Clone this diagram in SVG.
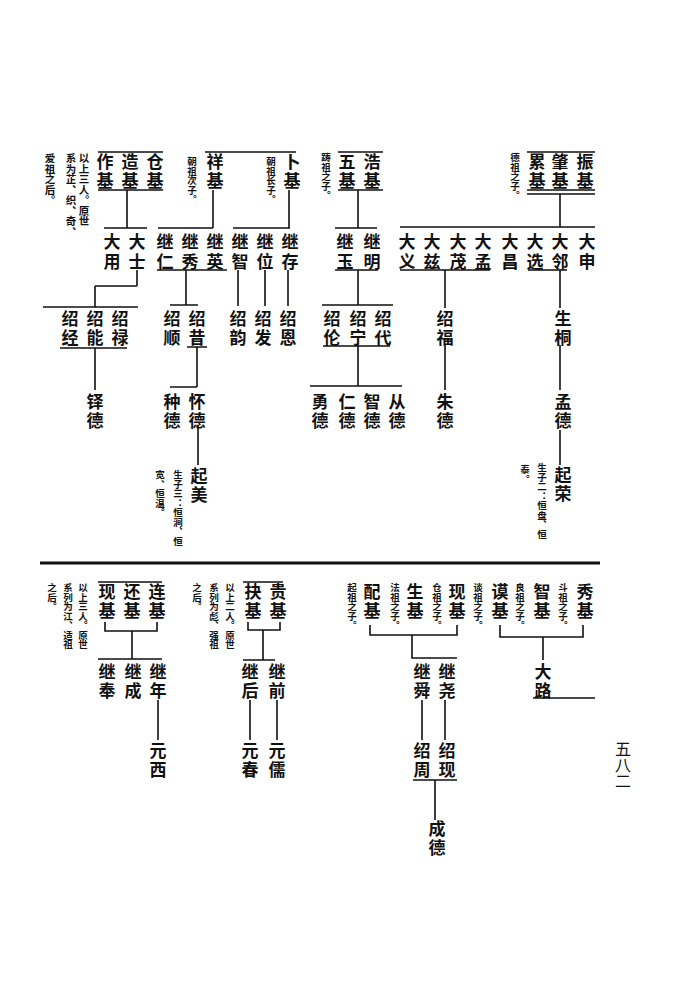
<svg xmlns="http://www.w3.org/2000/svg" width="674" height="1007" viewBox="0 0 674 1007">
<style>
.n{font-family:"Noto Sans CJK SC","Noto Sans CJK JP",sans-serif;font-size:17px;font-weight:700;fill:#111;text-anchor:middle}
.s{font-family:"Noto Sans CJK SC","Noto Sans CJK JP",sans-serif;font-size:9.5px;font-weight:700;fill:#111;writing-mode:vertical-rl}
.p{font-family:"Noto Sans CJK SC","Noto Sans CJK JP",sans-serif;font-size:16px;fill:#111;text-anchor:middle}
.l{stroke:#111;stroke-width:1.6;fill:none}
.sep{stroke:#111;stroke-width:3}
</style>
<rect width="674" height="1007" fill="#fff"/>
<g id="connectors" class="l">
<!-- group A -->
<path d="M98 152H163M98 190H163M127 190V228M104 228H147M137 270V286M95 286H137M95 286V307M43 307H138M60 348H127M95 348V390"/>
<!-- group B -->
<path d="M205 152H296M213 190V228M158 228H213M157 270H227M186 270V305M170 305H198M187 347H207M197 347V387M170 387H197M198 425V465"/>
<path d="M289 190V228M233 228H290M238 270V306M265 270V306M288 270V306"/>
<!-- group C -->
<path d="M338 152H383M338 190H383M358 190V228M335 228H377M335 270H378M358 270V305M322 305H393M323 346H390M358 346V386M310 386H402"/>
<!-- group D -->
<path d="M527 152H595M527 190H595M527 194H595M560 194V227M400 227H595M400 270H490M528 270H567M445 270V308M445 345V390M560 270V308M560 345V390M560 430V465"/>
<!-- separator -->
<path class="sep" d="M40 563H600"/>
<!-- group E -->
<path d="M98 582H162M105 622V631H157V622M132 631V659M98 659H162M158 700V740"/>
<!-- group F -->
<path d="M243 582H283M248 622V630H280V622M263 630V660M243 660H275M277 700V740M250 700V740"/>
<!-- group G -->
<path d="M500 625V637H583V625M543 637V660M533 698H595"/>
<!-- group H -->
<path d="M370 625V635H457V625M412 635V658H457M445 700V740M422 700V740M413 780H457M435 780V820"/>
</g>
<g id="n-cangji"><text class="n" x="155 155" y="167.5 187">仓基</text></g>
<g id="n-zaoji"><text class="n" x="130 130" y="167.5 187">造基</text></g>
<g id="n-zuoji"><text class="n" x="105 105" y="167.5 187">作基</text></g>
<g id="note-a"><text class="s" x="84" y="153" style="font-size:10.5px">以上三人。原世</text><text class="s" x="71" y="153" style="font-size:10.5px">系为芷、织、奇、</text><text class="s" x="50" y="153" style="font-size:10.5px">爱祖之后。</text></g>
<g id="n-xiangji"><text class="n" x="215 215" y="167.5 187">祥基</text><text class="s" x="192" y="157">朝祖次子。</text></g>
<g id="n-buji"><text class="n" x="292 292" y="167.5 187">卜基</text><text class="s" x="271" y="157">朝祖长子。</text></g>
<g id="n-haoji"><text class="n" x="372 372" y="167.5 187">浩基</text></g>
<g id="n-wuji"><text class="n" x="347 347" y="167.5 187">五基</text><text class="s" x="326" y="153">踌祖之子。</text></g>
<g id="n-zhenji"><text class="n" x="585 585" y="167.5 187">振基</text></g>
<g id="n-zhaoji"><text class="n" x="560 560" y="167.5 187">肇基</text></g>
<g id="n-leiji"><text class="n" x="537 537" y="167.5 187">累基</text><text class="s" x="515" y="153">德祖之子。</text></g>

<g id="n-dashi"><text class="n" x="137 137" y="248 267.5">大士</text></g>
<g id="n-dayong"><text class="n" x="112 112" y="248 267.5">大用</text></g>
<g id="n-jiying"><text class="n" x="215 215" y="248 267.5">继英</text></g>
<g id="n-jixiu"><text class="n" x="190 190" y="248 267.5">继秀</text></g>
<g id="n-jiren"><text class="n" x="165 165" y="248 267.5">继仁</text></g>
<g id="n-jicun"><text class="n" x="290 290" y="248 267.5">继存</text></g>
<g id="n-jiwei"><text class="n" x="265 265" y="248 267.5">继位</text></g>
<g id="n-jizhi"><text class="n" x="240 240" y="248 267.5">继智</text></g>
<g id="n-jiming"><text class="n" x="372 372" y="248 267.5">继明</text></g>
<g id="n-jiyu"><text class="n" x="345 345" y="248 267.5">继玉</text></g>
<g id="n-dashen"><text class="n" x="587 587" y="248 267.5">大申</text></g>
<g id="n-dalin"><text class="n" x="560 560" y="248 267.5">大邻</text></g>
<g id="n-daxuan"><text class="n" x="535 535" y="248 267.5">大选</text></g>
<g id="n-dachang"><text class="n" x="510 510" y="248 267.5">大昌</text></g>
<g id="n-dameng"><text class="n" x="483 483" y="248 267.5">大孟</text></g>
<g id="n-damao"><text class="n" x="458 458" y="248 267.5">大茂</text></g>
<g id="n-dazi"><text class="n" x="432 432" y="248 267.5">大兹</text></g>
<g id="n-dayi"><text class="n" x="407 407" y="248 267.5">大义</text></g>

<g id="n-shaolu"><text class="n" x="120 120" y="324.5 344">绍禄</text></g>
<g id="n-shaoneng"><text class="n" x="95 95" y="324.5 344">绍能</text></g>
<g id="n-shaojing"><text class="n" x="70 70" y="324.5 344">绍经</text></g>
<g id="n-shaoxi"><text class="n" x="197 197" y="324.5 344">绍昔</text></g>
<g id="n-shaoshun"><text class="n" x="172 172" y="324.5 344">绍顺</text></g>
<g id="n-shaoen"><text class="n" x="288 288" y="324.5 344">绍恩</text></g>
<g id="n-shaofa"><text class="n" x="263 263" y="324.5 344">绍发</text></g>
<g id="n-shaoyun"><text class="n" x="238 238" y="324.5 344">绍韵</text></g>
<g id="n-shaodai"><text class="n" x="383 383" y="324.5 344">绍代</text></g>
<g id="n-shaoning"><text class="n" x="358 358" y="324.5 344">绍宁</text></g>
<g id="n-shaolun"><text class="n" x="332 332" y="324.5 344">绍伦</text></g>
<g id="n-shaofu"><text class="n" x="445 445" y="324.5 344">绍福</text></g>
<g id="n-shengtong"><text class="n" x="563 563" y="324.5 344">生桐</text></g>

<g id="n-duode"><text class="n" x="95 95" y="407.5 427">铎德</text></g>
<g id="n-huaide"><text class="n" x="197 197" y="407.5 427">怀德</text></g>
<g id="n-zhongde"><text class="n" x="172 172" y="407.5 427">种德</text></g>
<g id="n-congde"><text class="n" x="397 397" y="407.5 427">从德</text></g>
<g id="n-zhide"><text class="n" x="372 372" y="407.5 427">智德</text></g>
<g id="n-rende"><text class="n" x="347 347" y="407.5 427">仁德</text></g>
<g id="n-yongde"><text class="n" x="320 320" y="407.5 427">勇德</text></g>
<g id="n-zhude"><text class="n" x="445 445" y="407.5 427">朱德</text></g>
<g id="n-mengde"><text class="n" x="563 563" y="407.5 427">孟德</text></g>

<g id="n-qimei"><text class="n" x="199 199" y="481.5 501">起美</text><text class="s" x="178" y="470">生子三：恒涧、恒</text><text class="s" x="160" y="470">宽、恒温。</text></g>
<g id="n-qirong"><text class="n" x="563 563" y="480.5 500">起荣</text><text class="s" x="542" y="463">生子二：恒盘、恒</text><text class="s" x="525" y="465">泰。</text></g>

<g id="n-lianji"><text class="n" x="157 157" y="597.5 617">连基</text></g>
<g id="n-huanji"><text class="n" x="132 132" y="597.5 617">还基</text></g>
<g id="n-xianji1"><text class="n" x="107 107" y="597.5 617">现基</text></g>
<g id="note-e"><text class="s" x="83" y="583">以上三人。原世</text><text class="s" x="68" y="583">系列为江、适祖</text><text class="s" x="52" y="583">之后。</text></g>
<g id="n-guiji"><text class="n" x="278 278" y="597.5 617">贵基</text></g>
<g id="n-jueji"><text class="n" x="253 253" y="597.5 617">抉基</text></g>
<g id="note-f"><text class="s" x="230" y="583">以上二人。原世</text><text class="s" x="214" y="583">系列为彪、强祖</text><text class="s" x="197" y="583">之后。</text></g>
<g id="n-xianji2"><text class="n" x="457 457" y="597.5 617">现基</text><text class="s" x="437" y="583">仓祖之子。</text></g>
<g id="n-shengji"><text class="n" x="415 415" y="597.5 617">生基</text><text class="s" x="395" y="583">法祖之子。</text></g>
<g id="n-peiji"><text class="n" x="372 372" y="597.5 617">配基</text><text class="s" x="352" y="583">起祖之子。</text></g>
<g id="n-xiuji"><text class="n" x="585 585" y="597.5 617">秀基</text><text class="s" x="563" y="583">斗祖之子。</text></g>
<g id="n-zhiji"><text class="n" x="542 542" y="597.5 617">智基</text><text class="s" x="520" y="583">良祖之子。</text></g>
<g id="n-moji"><text class="n" x="500 500" y="597.5 617">谟基</text><text class="s" x="478" y="583">谈祖之子。</text></g>

<g id="n-jinian"><text class="n" x="158 158" y="677.5 697">继年</text></g>
<g id="n-jicheng"><text class="n" x="133 133" y="677.5 697">继成</text></g>
<g id="n-jifeng"><text class="n" x="107 107" y="677.5 697">继奉</text></g>
<g id="n-jiqian"><text class="n" x="277 277" y="677.5 697">继前</text></g>
<g id="n-jihou"><text class="n" x="250 250" y="677.5 697">继后</text></g>
<g id="n-jiyao"><text class="n" x="447 447" y="677.5 697">继尧</text></g>
<g id="n-jishun"><text class="n" x="422 422" y="677.5 697">继舜</text></g>
<g id="n-dalu"><text class="n" x="543 543" y="677.5 697">大路</text></g>

<g id="n-yuanxi"><text class="n" x="158 158" y="756.5 776">元西</text></g>
<g id="n-yuanru"><text class="n" x="277 277" y="756.5 776">元儒</text></g>
<g id="n-yuanchun"><text class="n" x="250 250" y="756.5 776">元春</text></g>
<g id="n-shaoxian"><text class="n" x="447 447" y="756.5 776">绍现</text></g>
<g id="n-shaozhou"><text class="n" x="422 422" y="756.5 776">绍周</text></g>
<g id="n-chengde"><text class="n" x="437 437" y="834.5 854">成德</text></g>

<g id="page-number"><text class="p" x="623 623 623" y="755 771 787">五八二</text></g>
</svg>
